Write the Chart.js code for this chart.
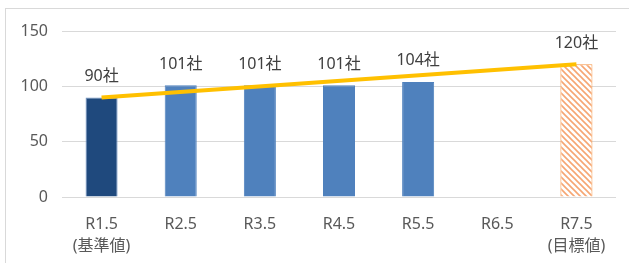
<!DOCTYPE html>
<html>
<head>
<meta charset="utf-8">
<script src="https://cdn.jsdelivr.net/npm/chart.js@4"></script>
<style>
  html, body { margin: 0; padding: 0; background: #fff; overflow: hidden; }
  #wrap { position: relative; width: 629px; height: 263px; }
  #frame { position: absolute; left: 5px; top: 8px; width: 660px; height: 300px; border: 1px solid #d9d9d9; box-sizing: border-box; }
  canvas { position: absolute; left: 0; top: 0; }
</style>
</head>
<body>
<div id="wrap">
  <div id="frame"></div>
  <canvas id="chart" width="629" height="263"></canvas>
</div>
<script>
const labels = [['R1.5', '(基準値)'], 'R2.5', 'R3.5', 'R4.5', 'R5.5', 'R6.5', ['R7.5', '(目標値)']];
const companies = [90, 101, 101, 101, 104, null, 120];
const trendLine = [90, null, null, null, null, null, 120];
const yTicks = [0, 50, 100, 150];

const FONT = '"Noto Sans", "Noto Sans CJK JP", sans-serif';

// diagonal hatch for the target bar
function makeHatch() {
  const c = document.createElement('canvas');
  c.width = 6; c.height = 6;
  const g = c.getContext('2d');
  g.fillStyle = '#fff';
  g.fillRect(0, 0, 6, 6);
  g.strokeStyle = '#f6a673';
  g.lineWidth = 1.6;
  g.beginPath();
  g.moveTo(-1, -1); g.lineTo(7, 7);
  g.moveTo(-4, 2); g.lineTo(2, 8);
  g.moveTo(2, -4); g.lineTo(8, 2);
  g.stroke();
  return g.createPattern(c, 'repeat');
}

const hatch = makeHatch();
const barColors = ['#1f497d', '#4f81bd', '#4f81bd', '#4f81bd', '#4f81bd', '#4f81bd', hatch];
const barBorders = ['#6f93c4', '#4f81bd', '#4f81bd', '#4f81bd', '#4f81bd', '#4f81bd', '#f79646'];

const valueLabels = {
  id: 'valueLabels',
  afterDatasetsDraw(chart) {
    const ctx = chart.ctx;
    const meta = chart.getDatasetMeta(1);
    ctx.save();
    ctx.font = '16px ' + FONT;
    ctx.fillStyle = '#404040';
    ctx.textAlign = 'center';
    ctx.textBaseline = 'middle';
    meta.data.forEach((bar, i) => {
      if (companies[i] == null) return;
      ctx.fillText(companies[i] + '社', bar.x, bar.y - 21);
    });
    ctx.restore();
  }
};

new Chart(document.getElementById('chart'), {
  data: {
    labels: labels,
    datasets: [
      {
        type: 'line',
        data: trendLine,
        spanGaps: true,
        borderColor: '#ffc000',
        borderWidth: 4,
        pointRadius: 0,
        order: 0
      },
      {
        type: 'bar',
        data: companies,
        backgroundColor: barColors,
        borderColor: barBorders,
        borderWidth: 1,
        categoryPercentage: 1,
        barPercentage: 0.405,
        order: 1
      }
    ]
  },
  options: {
    responsive: false,
    animation: false,
    layout: { padding: { top: 31, right: 13, left: 0, bottom: 0 } },
    plugins: { legend: { display: false }, tooltip: { enabled: false } },
    scales: {
      x: {
        grid: { display: false },
        border: { display: false },
        ticks: {
          color: '#595959',
          font: { family: FONT, size: 16, lineHeight: 1.4 },
          padding: 8,
          maxRotation: 0,
          autoSkip: false
        },
        afterFit: s => { s.height = 66; }
      },
      y: {
        min: 0,
        max: 150,
        afterBuildTicks: s => { s.ticks = yTicks.map(v => ({ value: v })); },
        grid: { color: '#d9d9d9', lineWidth: 1, drawTicks: false },
        border: { display: false },
        ticks: {
          color: '#595959',
          font: { family: FONT, size: 16 },
          padding: 14
        },
        afterFit: s => { s.width = 62; }
      }
    }
  },
  plugins: [valueLabels]
});
</script>
</body>
</html>
